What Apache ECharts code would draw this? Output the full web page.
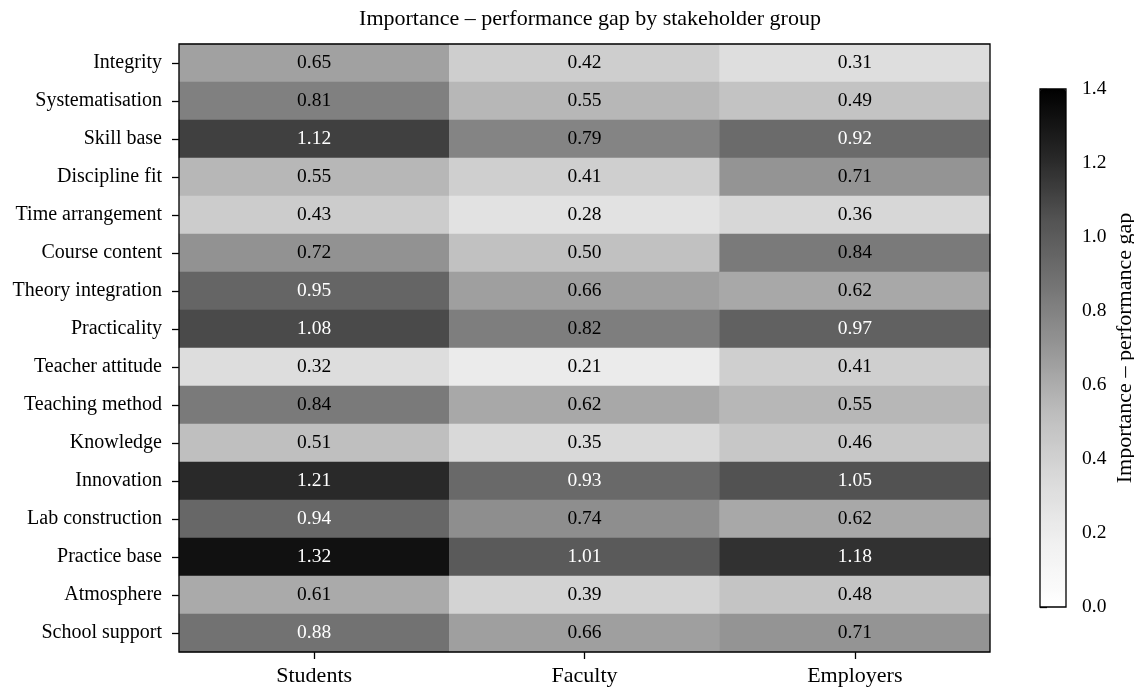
<!DOCTYPE html>
<html>
<head>
<meta charset="utf-8">
<script src="https://cdn.jsdelivr.net/npm/echarts@6/dist/echarts.min.js"></script>
<style>
html,body{margin:0;padding:0;background:#fff;}
#chart{width:1134px;height:688px;}
</style>
</head>
<body>
<div id="chart"></div>
<script>
const factors = ['Integrity','Systematisation','Skill base','Discipline fit','Time arrangement','Course content','Theory integration','Practicality','Teacher attitude','Teaching method','Knowledge','Innovation','Lab construction','Practice base','Atmosphere','School support'];
const groups = ['Students','Faculty','Employers'];
const students  = [0.65,0.81,1.12,0.55,0.43,0.72,0.95,1.08,0.32,0.84,0.51,1.21,0.94,1.32,0.61,0.88];
const faculty   = [0.42,0.55,0.79,0.41,0.28,0.50,0.66,0.82,0.21,0.62,0.35,0.93,0.74,1.01,0.39,0.66];
const employers = [0.31,0.49,0.92,0.71,0.36,0.84,0.62,0.97,0.41,0.55,0.46,1.05,0.62,1.18,0.48,0.71];
const colorbarTicks = [0.0,0.2,0.4,0.6,0.8,1.0,1.2,1.4];

const FONT = '"Liberation Serif", "DejaVu Serif", serif';
// sequential grey ramp: white for no gap, black for the largest
const greys = ['#ffffff','#f0f0f0','#d9d9d9','#bdbdbd','#969696','#737373','#525252','#252525','#000000'];

const columns = [students, faculty, employers];
const cells = [];
columns.forEach((col, gi) => {
  col.forEach((v, fi) => {
    cells.push({
      value: [gi, fi, v],
      label: { color: v > 0.85 ? '#ffffff' : '#000000' }
    });
  });
});

const cbMin = colorbarTicks[0];
const cbMax = colorbarTicks[colorbarTicks.length - 1];
const cbStep = colorbarTicks[1] - colorbarTicks[0];

const chart = echarts.init(document.getElementById('chart'));
chart.setOption({
  backgroundColor: '#ffffff',
  animation: false,
  title: {
    text: 'Importance – performance gap by stakeholder group',
    left: 585, top: 3, textAlign: 'center',
    textStyle: { fontFamily: FONT, fontSize: 22, fontWeight: 'normal', color: '#000' }
  },
  grid: [
    { left: 179, right: 144, top: 44, bottom: 36, outerBoundsMode: 'none', containLabel: false,
      show: true, borderColor: '#000', borderWidth: 1.3, backgroundColor: 'transparent', z: 5 },
    { left: 1040, top: 89, width: 26, height: 518, outerBoundsMode: 'none', containLabel: false,
      show: true, borderColor: '#000', borderWidth: 1.3, backgroundColor: 'transparent', z: 5 }
  ],
  xAxis: [
    {
      type: 'category', data: groups, gridIndex: 0,
      axisLine: { show: false },
      axisTick: { show: true, alignWithLabel: true, length: 7, lineStyle: { color: '#000', width: 1.3 } },
      axisLabel: { fontFamily: FONT, fontSize: 22, color: '#000', margin: 13 },
      splitLine: { show: false }
    },
    { type: 'value', gridIndex: 1, show: false, min: 0, max: 1 }
  ],
  yAxis: [
    {
      type: 'category', data: factors, gridIndex: 0, inverse: true,
      axisLine: { show: false },
      axisTick: { show: true, alignWithLabel: true, length: 7, lineStyle: { color: '#000', width: 1.3 } },
      axisLabel: { fontFamily: FONT, fontSize: 20, color: '#000', margin: 17 },
      splitLine: { show: false }
    },
    {
      type: 'value', gridIndex: 1, position: 'right', min: cbMin, max: cbMax, interval: cbStep,
      axisLine: { show: false },
      axisTick: { show: true, length: 7, lineStyle: { color: '#000', width: 1.3 } },
      axisLabel: { fontFamily: FONT, fontSize: 19.5, color: '#000', margin: 16, formatter: v => v.toFixed(1) },
      splitLine: { show: false },
      name: 'Importance – performance gap', nameLocation: 'middle', nameRotate: 90, nameGap: 48,
      nameTextStyle: { fontFamily: FONT, fontSize: 22, color: '#000' }
    }
  ],
  visualMap: {
    type: 'continuous', min: cbMin, max: cbMax, seriesIndex: 0, calculable: false,
    orient: 'vertical', left: 1040, top: 89, itemWidth: 26, itemHeight: 518,
    padding: 0, text: ['', ''], showLabel: false, z: 1,
    inRange: { color: greys }
  },
  series: [{
    type: 'heatmap', xAxisIndex: 0, yAxisIndex: 0,
    data: cells,
    label: { show: true, fontFamily: FONT, fontSize: 19.5, formatter: p => p.value[2].toFixed(2) },
    itemStyle: { borderWidth: 0 },
    emphasis: { disabled: true }
  }]
});
</script>
</body>
</html>
